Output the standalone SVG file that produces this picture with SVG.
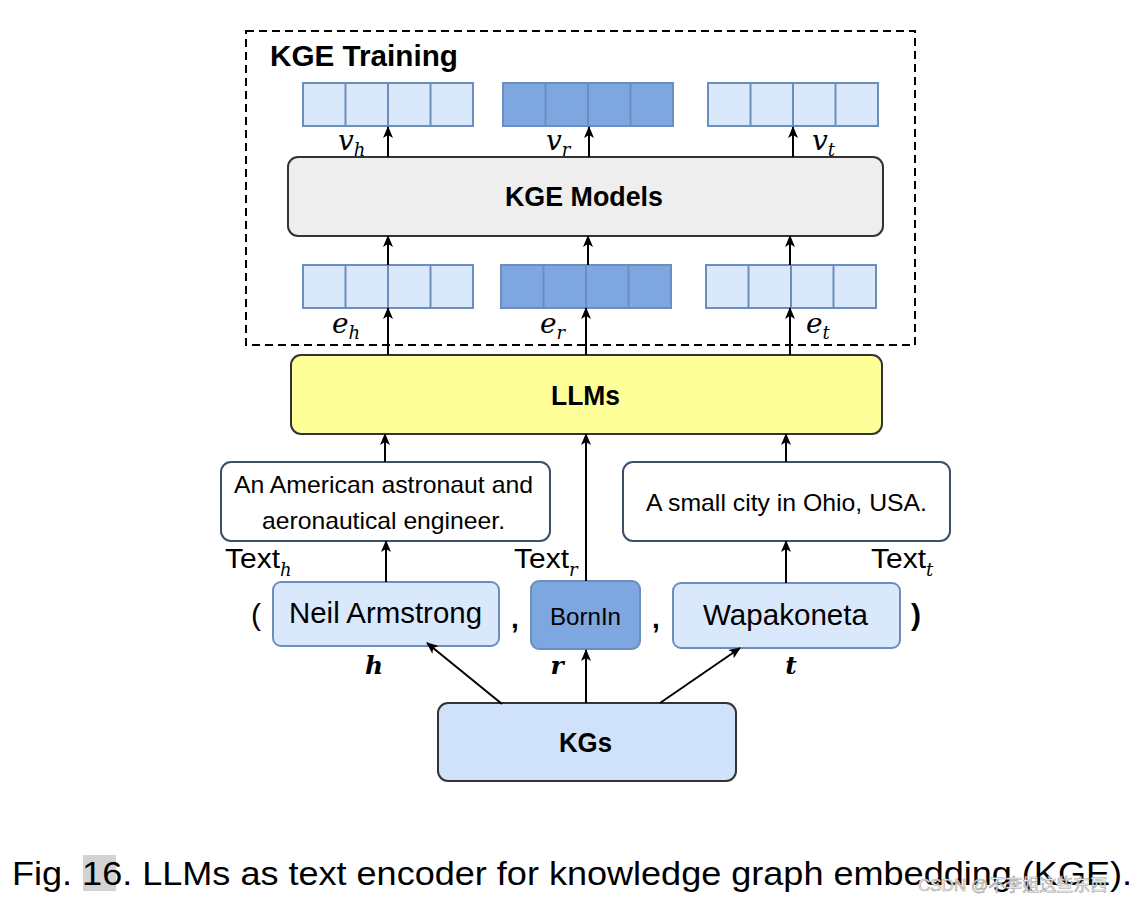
<svg xmlns="http://www.w3.org/2000/svg" width="1142" height="902" viewBox="0 0 1142 902">
<style>
.lb{fill:#dae8fc;stroke:#6c8ebf;stroke-width:2}
.db{fill:#7ea6e0;stroke:#6c8ebf;stroke-width:2}
.sf{font-family:"Liberation Sans",Arial,sans-serif;fill:#000}
.bold{font-weight:bold}
.m{font-family:"DejaVu Serif","Liberation Serif",serif;font-style:italic;fill:#000}
.c{stroke:#000;stroke-width:2;fill:none}
</style>
<defs>
<marker id="ah" viewBox="0 0 12 10" refX="11" refY="5" markerWidth="12" markerHeight="10" markerUnits="userSpaceOnUse" orient="auto">
<path d="M0,0 L12,5 L0,10 L3,5 Z" fill="#000"/>
</marker>
<g id="vec">
<rect x="0" y="0" width="170" height="43" class="lb"/>
<line x1="42.5" y1="0" x2="42.5" y2="43" stroke="#6c8ebf" stroke-width="2"/>
<line x1="85" y1="0" x2="85" y2="43" stroke="#6c8ebf" stroke-width="2"/>
<line x1="127.5" y1="0" x2="127.5" y2="43" stroke="#6c8ebf" stroke-width="2"/>
</g>
<g id="vecd">
<rect x="0" y="0" width="170" height="43" class="db"/>
<line x1="42.5" y1="0" x2="42.5" y2="43" stroke="#6c8ebf" stroke-width="2"/>
<line x1="85" y1="0" x2="85" y2="43" stroke="#6c8ebf" stroke-width="2"/>
<line x1="127.5" y1="0" x2="127.5" y2="43" stroke="#6c8ebf" stroke-width="2"/>
</g>
</defs>
<rect width="1142" height="902" fill="#fff"/>

<g id="kge-training">
<rect x="246" y="31" width="669" height="314" fill="none" stroke="#000" stroke-width="2" stroke-dasharray="8,5"/>
<text x="270" y="66" class="sf bold" font-size="29" textLength="188" lengthAdjust="spacingAndGlyphs">KGE Training</text>
</g>

<g id="vh"><use href="#vec" x="303" y="83"/><text x="338" y="150" class="m" font-size="28">v<tspan font-size="18" dy="6">h</tspan></text></g>
<g id="vr"><use href="#vecd" x="503" y="83"/><text x="546" y="150" class="m" font-size="28">v<tspan font-size="18" dy="6">r</tspan></text></g>
<g id="vt"><use href="#vec" x="708" y="83"/><text x="812" y="150" class="m" font-size="28">v<tspan font-size="18" dy="6">t</tspan></text></g>

<g id="kge-models">
<rect x="288" y="157" width="595" height="79" rx="10" fill="#eeeeee" stroke="#333" stroke-width="2"/>
<text x="505" y="206" class="sf bold" font-size="28" textLength="158" lengthAdjust="spacingAndGlyphs">KGE Models</text>
</g>

<g id="eh"><use href="#vec" x="303" y="265"/><text x="332" y="333" class="m" font-size="28">e<tspan font-size="18" dy="6">h</tspan></text></g>
<g id="er"><use href="#vecd" x="501" y="265"/><text x="540" y="333" class="m" font-size="28">e<tspan font-size="18" dy="6">r</tspan></text></g>
<g id="et"><use href="#vec" x="706" y="265"/><text x="806" y="333" class="m" font-size="28">e<tspan font-size="18" dy="6">t</tspan></text></g>

<g id="llms">
<rect x="291" y="355" width="591" height="79" rx="10" fill="#ffff99" stroke="#333" stroke-width="2"/>
<text x="551" y="405" class="sf bold" font-size="28" textLength="69" lengthAdjust="spacingAndGlyphs">LLMs</text>
</g>

<g id="text-h">
<rect x="221" y="462" width="329" height="79" rx="10" fill="#fff" stroke="#3d4f6b" stroke-width="2"/>
<text x="234" y="493" class="sf" font-size="24" textLength="299" lengthAdjust="spacingAndGlyphs">An American astronaut and</text>
<text x="262" y="529" class="sf" font-size="24" textLength="243" lengthAdjust="spacingAndGlyphs">aeronautical engineer.</text>
<text x="225" y="568" class="sf" font-size="27" textLength="55" lengthAdjust="spacingAndGlyphs">Text</text>
<text x="280" y="576" class="m" font-size="18">h</text>
</g>
<g id="text-r">
<text x="514" y="568" class="sf" font-size="27" textLength="55" lengthAdjust="spacingAndGlyphs">Text</text>
<text x="569" y="576" class="m" font-size="18">r</text>
</g>
<g id="text-t">
<rect x="623" y="462" width="327" height="79" rx="10" fill="#fff" stroke="#3d4f6b" stroke-width="2"/>
<text x="646" y="511" class="sf" font-size="24" textLength="281" lengthAdjust="spacingAndGlyphs">A small city in Ohio, USA.</text>
<text x="871" y="568" class="sf" font-size="27" textLength="55" lengthAdjust="spacingAndGlyphs">Text</text>
<text x="926" y="576" class="m" font-size="18">t</text>
</g>

<g id="triple">
<text x="256" y="625" class="sf" font-size="30" text-anchor="middle">(</text>
<text x="515" y="628" class="sf bold" font-size="28" text-anchor="middle">,</text>
<text x="656" y="628" class="sf bold" font-size="28" text-anchor="middle">,</text>
<text x="916" y="625" class="sf bold" font-size="30" text-anchor="middle">)</text>
</g>
<g id="head">
<rect x="273" y="582" width="226" height="64" rx="8" class="lb"/>
<text x="289" y="623" class="sf" font-size="29" textLength="193" lengthAdjust="spacingAndGlyphs">Neil Armstrong</text>
<text x="374" y="674" class="m bold" font-size="25" text-anchor="middle">h</text>
</g>
<g id="relation">
<rect x="531" y="581" width="109" height="68" rx="8" class="db"/>
<text x="550" y="625" class="sf" font-size="23" textLength="71" lengthAdjust="spacingAndGlyphs">BornIn</text>
<text x="557" y="674" class="m bold" font-size="25" text-anchor="middle">r</text>
</g>
<g id="tail">
<rect x="673" y="583" width="227" height="65" rx="8" class="lb"/>
<text x="703" y="625" class="sf" font-size="29" textLength="165" lengthAdjust="spacingAndGlyphs">Wapakoneta</text>
<text x="791" y="674" class="m bold" font-size="25" text-anchor="middle">t</text>
</g>

<g id="kgs">
<rect x="438" y="703" width="298" height="78" rx="10" fill="#d0e2fb" stroke="#333" stroke-width="2"/>
<text x="559" y="752" class="sf bold" font-size="27" textLength="53" lengthAdjust="spacingAndGlyphs">KGs</text>
</g>

<g id="connectors" class="c">
<line x1="388" y1="157" x2="388" y2="127" marker-end="url(#ah)"/>
<line x1="589" y1="157" x2="589" y2="127" marker-end="url(#ah)"/>
<line x1="793" y1="157" x2="793" y2="127" marker-end="url(#ah)"/>
<line x1="388" y1="265" x2="388" y2="236" marker-end="url(#ah)"/>
<line x1="588" y1="265" x2="588" y2="236" marker-end="url(#ah)"/>
<line x1="790" y1="265" x2="790" y2="236" marker-end="url(#ah)"/>
<line x1="388" y1="355" x2="388" y2="308" marker-end="url(#ah)"/>
<line x1="586" y1="355" x2="586" y2="308" marker-end="url(#ah)"/>
<line x1="790" y1="355" x2="790" y2="308" marker-end="url(#ah)"/>
<line x1="385" y1="462" x2="385" y2="434" marker-end="url(#ah)"/>
<line x1="786" y1="462" x2="786" y2="434" marker-end="url(#ah)"/>
<line x1="586" y1="581" x2="586" y2="434" marker-end="url(#ah)"/>
<line x1="386" y1="582" x2="386" y2="541" marker-end="url(#ah)"/>
<line x1="786" y1="583" x2="786" y2="541" marker-end="url(#ah)"/>
<line x1="502" y1="704" x2="427" y2="643" marker-end="url(#ah)"/>
<line x1="586" y1="703" x2="586" y2="650" marker-end="url(#ah)"/>
<line x1="660" y1="703" x2="740" y2="648" marker-end="url(#ah)"/>
</g>

<g id="caption">
<rect x="83" y="855" width="33" height="36" fill="#d3d3d3"/>
<text x="12" y="885" class="sf" font-size="34" textLength="1120" lengthAdjust="spacingAndGlyphs">Fig. 16. LLMs as text encoder for knowledge graph embedding (KGE).</text>
<text x="918" y="891" font-family="'Liberation Sans','Noto Sans CJK SC',sans-serif" font-size="17" fill="#ffffff" stroke="#999" stroke-width="0.6">CSDN @不李姐这些东西</text>
</g>
</svg>
